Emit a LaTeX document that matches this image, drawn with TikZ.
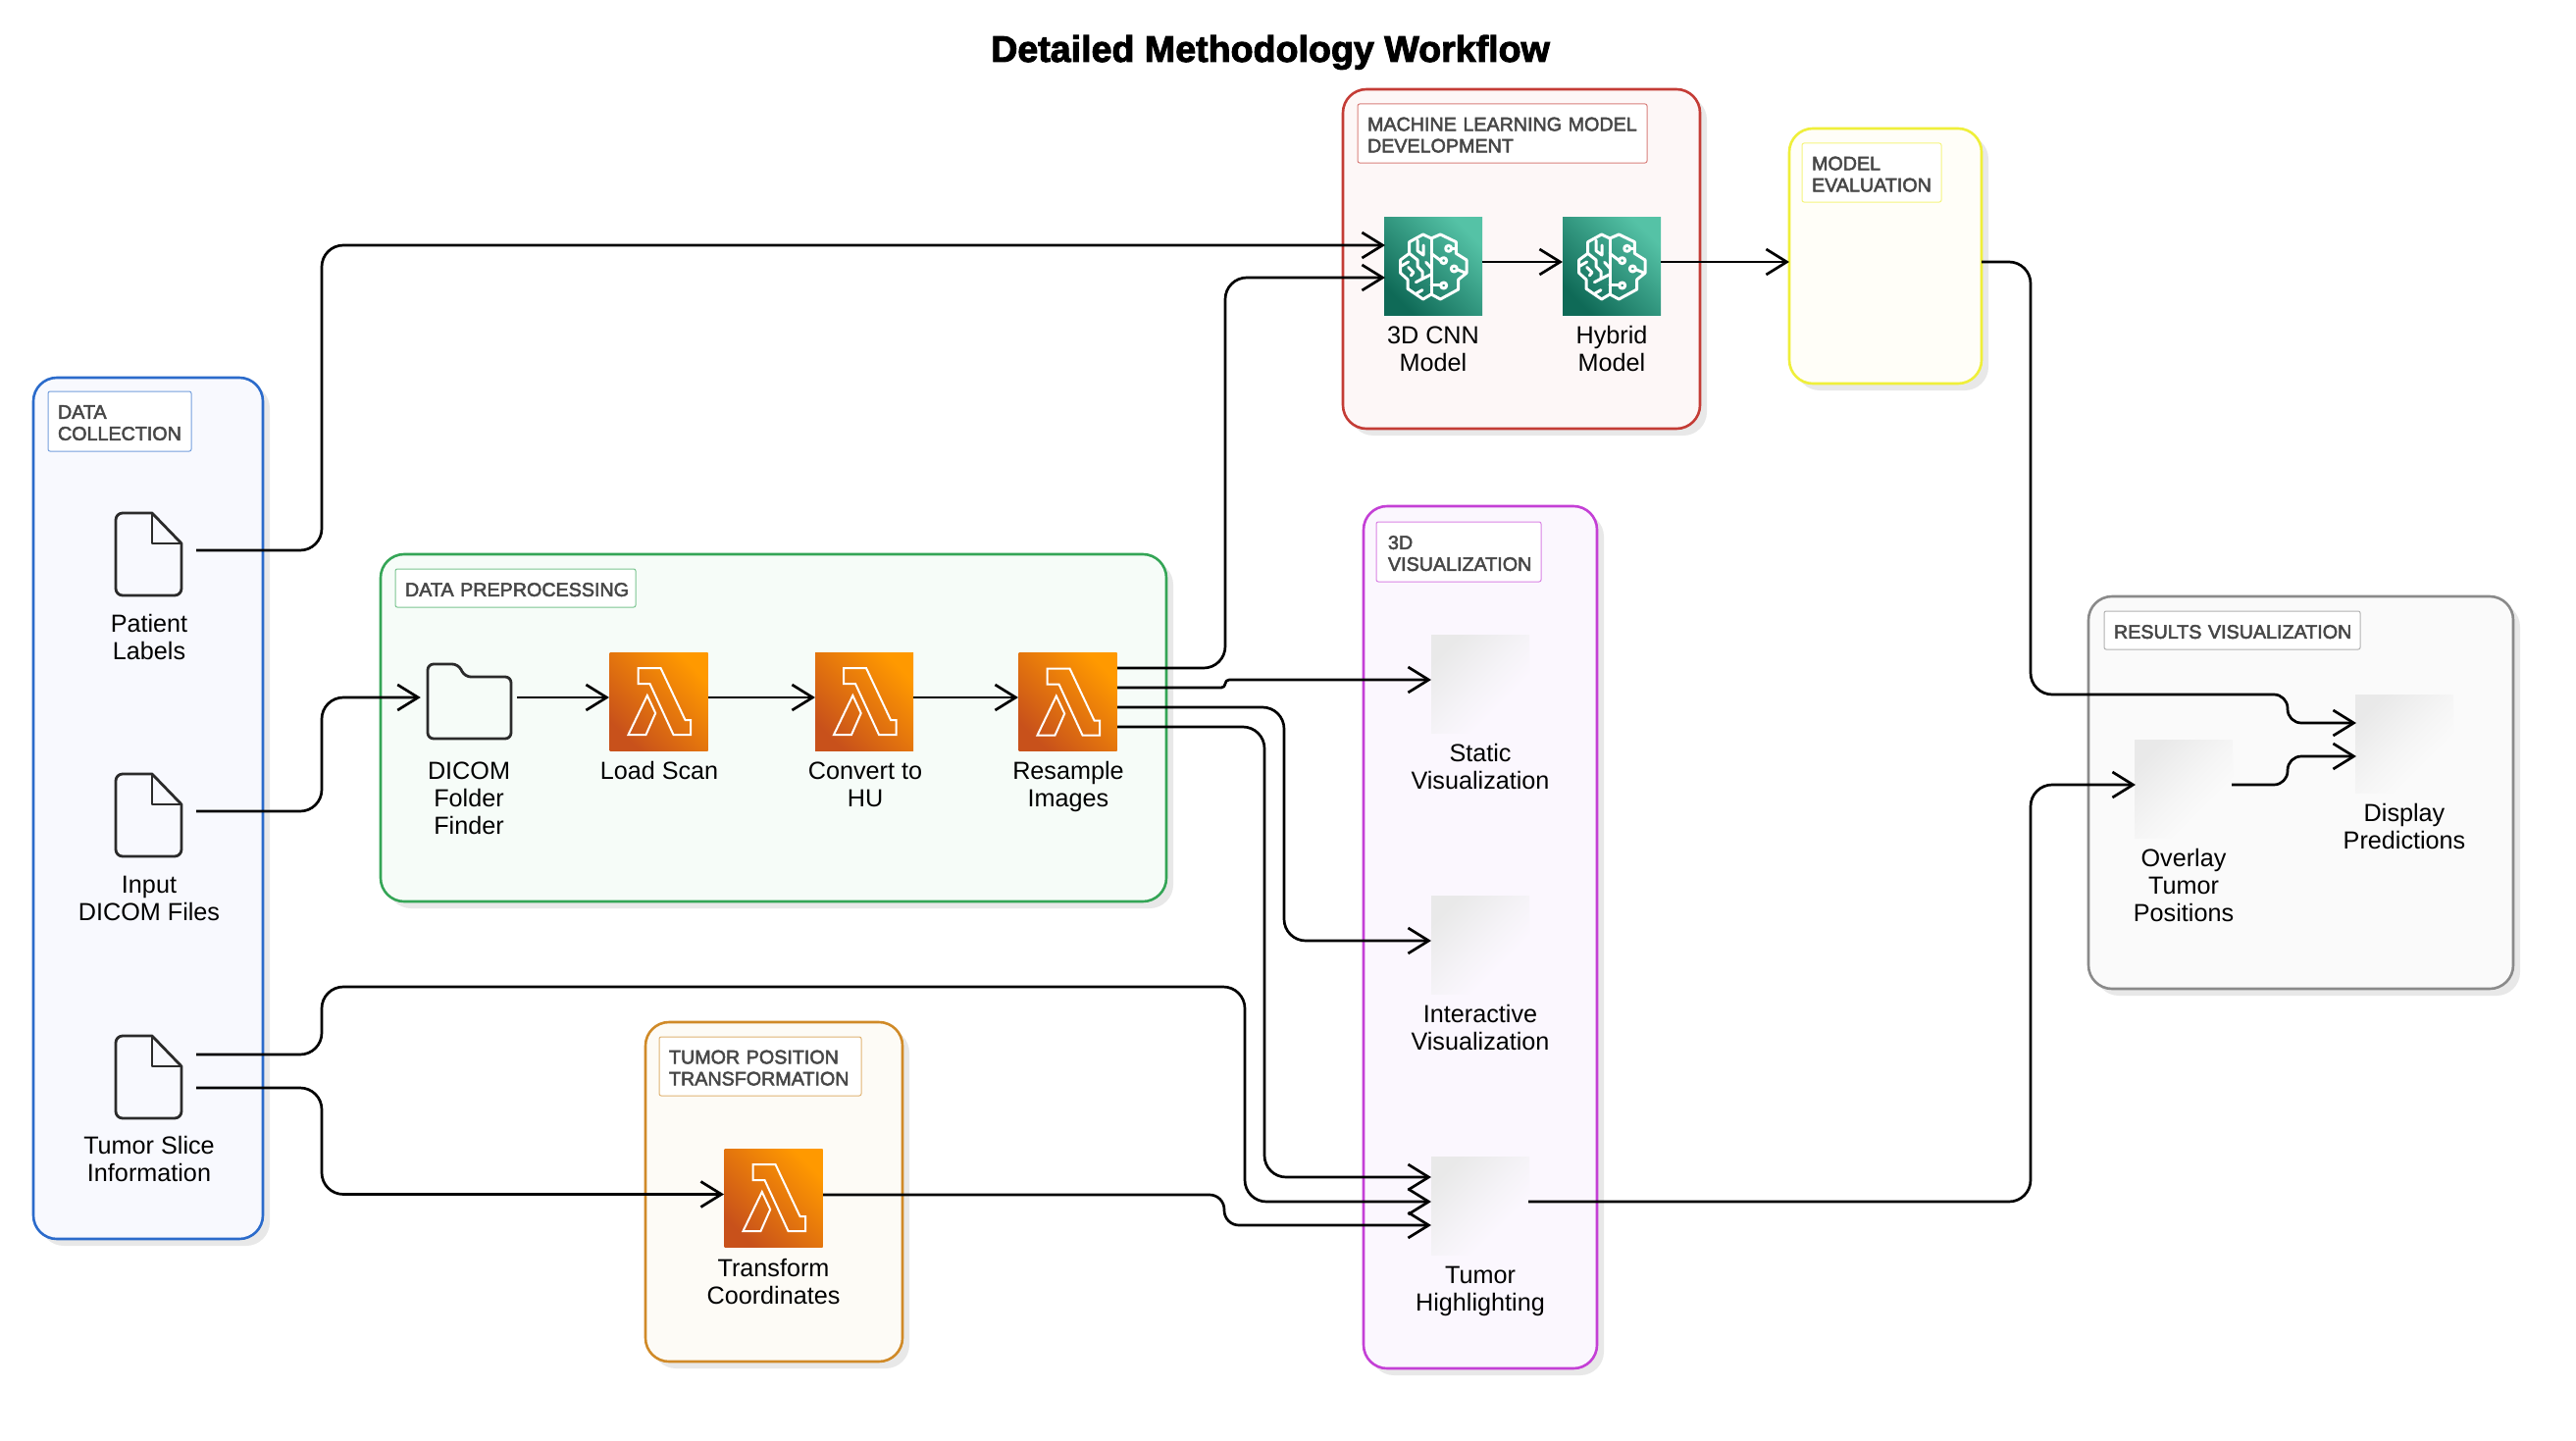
\documentclass[tikz,border=0pt]{standalone}
\usepackage{fontspec}
\setmainfont{Liberation Sans}
\newfontfamily\grpfont[FakeBold=2.6]{Liberation Sans}
\newfontfamily\ttlfont[FakeBold=2.6]{Liberation Sans Bold}
\usetikzlibrary{arrows.meta,calc}

\definecolor{cblue}{HTML}{2B6BCB}\definecolor{fblue}{HTML}{F8F9FE}
\definecolor{cgreen}{HTML}{34A556}\definecolor{fgreen}{HTML}{F6FCF8}
\definecolor{cred}{HTML}{C43C36}\definecolor{fred}{HTML}{FDF7F7}
\definecolor{cyellow}{HTML}{EFEF3A}\definecolor{fyellow}{HTML}{FFFEF8}
\definecolor{cpurple}{HTML}{C440D6}\definecolor{fpurple}{HTML}{FBF7FE}
\definecolor{corange}{HTML}{D08A28}\definecolor{forange}{HTML}{FDFBF6}
\definecolor{cgrey}{HTML}{8A8A8A}\definecolor{fgrey}{HTML}{FAFAFA}
\definecolor{shadowc}{HTML}{E8E8E8}
\definecolor{ink}{HTML}{2B2B2B}
\definecolor{lamA}{HTML}{C8511B}\definecolor{lamB}{HTML}{FF9900}
\definecolor{brA}{HTML}{0F6A57}\definecolor{brB}{HTML}{55C2A6}
\definecolor{fadetop}{HTML}{E9E9E9}
\definecolor{fademidp}{HTML}{F5F3F7}\definecolor{fademidg}{HTML}{F5F5F5}

\pgfdeclareverticalshading{fadepurple}{100bp}{color(0bp)=(fpurple); color(35bp)=(fpurple); color(50bp)=(fademidp); color(75bp)=(fadetop); color(100bp)=(fadetop)}
\pgfdeclareverticalshading{fadegrey}{100bp}{color(0bp)=(fgrey); color(35bp)=(fgrey); color(50bp)=(fademidg); color(75bp)=(fadetop); color(100bp)=(fadetop)}

\newcommand{\txtfont}{\fontsize{25.2}{28}\selectfont}
\newcommand{\grpsize}{\grpfont\fontsize{19.7}{22}\selectfont}
\newcommand{\gl}[1]{\raisebox{-1.6pt}[\height][\depth]{\mbox{#1}}}

\tikzset{
  conn/.style={draw=black,line width=2.7pt,line join=round,
    -{Straight Barb[length=21pt,width=26pt,line width=2.7pt]},rounded corners=22pt},
  groupbg/.style={rectangle,rounded corners=24pt,inner sep=0pt,line width=2.6pt},
  grouplab/.style={rectangle,rounded corners=2pt,inner ysep=0pt,inner xsep=10pt,
    fill=white,line width=1pt,align=left,text=black!72,font=\grpsize},
  caption/.style={anchor=north,inner sep=0pt,align=center,text=black,font=\txtfont},
  fileicon/.style={rectangle,inner sep=0pt,minimum width=96pt,minimum height=100pt,
    path picture={\begin{scope}[shift={(path picture bounding box.center)}]
      \draw[ink,line width=2.8pt,line join=round]
        (-22,-38) -- (3,-38) -- (33,-7) -- (33,39) arc[start angle=0,end angle=90,radius=7]
        -- (-27,46) arc[start angle=90,end angle=180,radius=7] -- (-34,-31)
        arc[start angle=180,end angle=270,radius=7] -- cycle;
      \draw[ink,line width=2.8pt,line join=round] (3,-38) -- (3,-7) -- (33,-7);
    \end{scope}}},
  foldericon/.style={rectangle,inner sep=0pt,minimum width=98pt,minimum height=100pt,
    path picture={\begin{scope}[shift={(path picture bounding box.center)}]
      \draw[ink,line width=2.8pt,line join=round,rounded corners=6pt]
        (-42,-34) -- (-11,-34) -- (-4,-21) -- (43,-21) -- (43,42) -- (-42,42) -- cycle;
    \end{scope}}},
  lambdaicon/.style={rectangle,inner sep=0pt,minimum size=100pt,
    bottom color=lamA,top color=lamB,shading angle=-45,
    path picture={\begin{scope}[shift={(path picture bounding box.center)}]
      \draw[white,line width=2pt,line join=miter]
        (-21,-34) -- (2,-34) -- (27,19) -- (32.6,19) -- (32.6,34) -- (15,34) -- (-9,-18) -- (-21,-18) -- cycle;
      \draw[white,line width=2pt,line join=miter]
        (-11.7,-6) -- (-3.3,12) -- (-13,34) -- (-31,34) -- cycle;
    \end{scope}}},
  brainicon/.style={rectangle,inner sep=0pt,minimum size=100pt,
    bottom color=brA,top color=brB,shading angle=-45,
    path picture={\begin{scope}[shift={(path picture bounding box.center)},x=.3333pt,y=-.3333pt,white,line width=3pt,line join=round,line cap=round]
      \draw (-6,-84) -- (-31,-96) -- (-73,-73) -- (-73,-38) -- (-100,-18) -- (-100,22) -- (-78,42) -- (-78,70) -- (-31,102) -- (-6,87) -- (22,102) -- (77,72) -- (77,42) -- (102,22) -- (102,-18) -- (70,-38) -- (70,-73) -- (22,-96) -- cycle;
      \draw (-6,-84) -- (-6,87);
      \draw (-48,-78) -- (-48,-46) -- (-30,-33) -- (-30,-63);
      \draw (-73,-38) -- (-48,-18) -- (-48,2) -- (-33,17) -- (-33,37);
      \draw (-100,2) -- (-76,-12);
      \draw (-22,-11) -- (-6,7);
      \draw (-53,50) -- (-6,26);
      \draw (-76,4) -- (-60,20) -- (-68,30);
      \draw (-54,86) -- (-33,74);
      \draw (-6,-38) -- (23,-16);
      \draw (32,-16) circle[radius=9];
      \draw (56,-53) -- (70,-53);
      \draw (47,-53) circle[radius=9];
      \draw (73,11) -- (100,22);
      \draw (64,9) circle[radius=9];
      \draw (-6,60) -- (22,60);
      \draw (32,60) circle[radius=9];
    \end{scope}}},
  fadebox/.style={rectangle,inner sep=0pt,minimum size=100pt,shade,shading=#1,shading angle=45},
}
% name, x1, y1, x2, y2, stroke, fill
\newcommand{\groupbox}[7]{%
  \path[fill=shadowc,rounded corners=24pt] (#2+7,#3+7) rectangle (#4+7,#5+7);
  \node[groupbg,draw=#6,fill=#7,minimum width={#4-#2},minimum height={#5-#3}] (#1)
    at ({(#2+#4)/2},{(#3+#5)/2}) {};}
% name, x1, y1, x2, y2, colour, text
\newcommand{\grouplabel}[7]{%
  \node[grouplab,draw=#6!65,text width={#4-#2-20},minimum height={#5-#3}] (#1)
    at ({(#2+#4)/2},{(#3+#5)/2}) {#7};}

\begin{document}
\begin{tikzpicture}[x=1pt,y=-1pt]
\useasboundingbox[fill=white] (0,0) rectangle (2626,1469);

\node[inner sep=0pt,anchor=base,font=\ttlfont\fontsize{37.6}{42}\selectfont] (title) at (1295,63) {Detailed Methodology Workflow};

% Groups
\groupbox{gcollect}{34}{385}{268}{1263}{cblue}{fblue}
\grouplabel{lcollect}{49}{399}{195}{460}{cblue}{\gl{DATA}\\\gl{COLLECTION}}
\groupbox{gprep}{388}{565}{1189}{919}{cgreen}{fgreen}
\grouplabel{lprep}{403}{580}{648}{619}{cgreen}{\gl{DATA PREPROCESSING}}
\groupbox{gml}{1369}{91}{1733}{437}{cred}{fred}
\grouplabel{lml}{1384}{106}{1679}{166}{cred}{\gl{MACHINE LEARNING MODEL}\\\gl{DEVELOPMENT}}
\groupbox{geval}{1824}{131}{2020}{391}{cyellow}{fyellow}
\grouplabel{leval}{1837}{146}{1979}{206}{cyellow}{\gl{MODEL}\\\gl{EVALUATION}}
\groupbox{gviz}{1390}{516}{1628}{1395}{cpurple}{fpurple}
\grouplabel{lviz}{1403}{532}{1571}{593}{cpurple}{\hspace*{2pt}\gl{3D}\\\hspace*{2pt}\gl{VISUALIZATION}}
\groupbox{gtumor}{658}{1042}{920}{1388}{corange}{forange}
\grouplabel{ltumor}{672}{1057}{878}{1117}{corange}{\gl{TUMOR POSITION}\\\gl{TRANSFORMATION}}
\groupbox{gres}{2129}{608}{2562}{1008}{cgrey}{fgrey}
\grouplabel{lres}{2145}{623}{2406}{662}{cgrey}{\gl{RESULTS VISUALIZATION}}

% Icons
\node[fileicon] (patient) at (152,561) {};
\node[fileicon] (input) at (152,827) {};
\node[fileicon] (slice) at (152,1094) {};
\node[foldericon] (folder) at (478,711) {};
\node[lambdaicon] (load) at (671.5,715) {};
\node[lambdaicon] (convert) at (881,715) {};
\node[lambdaicon] (resample) at (1088.5,715.5) {};
\node[lambdaicon] (transform) at (788.5,1221) {};
\node[brainicon] (cnn) at (1461,271) {};
\node[brainicon] (hybrid) at (1643,271) {};
\node[fadebox=fadepurple] (static) at (1509,697) {};
\node[fadebox=fadepurple] (interactive) at (1509,963) {};
\node[fadebox=fadepurple] (highlight) at (1509,1229) {};
\node[fadebox=fadegrey] (overlay) at (2226,804) {};
\node[fadebox=fadegrey] (display) at (2451,758) {};

% Captions
\node[caption] (tpatient) at (152,624.4) {\strut Patient\\Labels};
\node[caption] (tinput) at (152,890.4) {\strut Input\\DICOM Files};
\node[caption] (tslice) at (152,1156.4) {\strut Tumor Slice\\Information};
\node[caption] (tfolder) at (478,774.4) {\strut DICOM\\Folder\\Finder};
\node[caption] (tload) at (672,774.4) {\strut Load Scan};
\node[caption] (tconvert) at (882,774.4) {\strut Convert to\\HU};
\node[caption] (tresample) at (1089,774.4) {\strut Resample\\Images};
\node[caption] (ttransform) at (788.5,1281.4) {\strut Transform\\Coordinates};
\node[caption] (tcnn) at (1461,330.9) {\strut 3D CNN\\Model};
\node[caption] (thybrid) at (1643,330.9) {\strut Hybrid\\Model};
\node[caption] (tstatic) at (1509,756.4) {\strut Static\\Visualization};
\node[caption] (tinteractive) at (1509,1022.4) {\strut Interactive\\Visualization};
\node[caption] (thighlight) at (1509,1288.4) {\strut Tumor\\Highlighting};
\node[caption] (toverlay) at (2226,863.4) {\strut Overlay\\Tumor\\Positions};
\node[caption] (tdisplay) at (2451,817.4) {\strut Display\\Predictions};

% Connection points
\coordinate (loadin) at (621,711); \coordinate (loadout) at (722,711);
\coordinate (convin) at (831,711); \coordinate (convout) at (931,711);
\coordinate (resin) at (1038,711);
\coordinate (resa) at (1139,681); \coordinate (resb) at (1139,701);
\coordinate (resc) at (1139,721); \coordinate (resd) at (1139,741);
\coordinate (cnnina) at (1412,250); \coordinate (cnninb) at (1412,283);
\coordinate (cnnout) at (1511,267); \coordinate (hybin) at (1593,267);
\coordinate (hybout) at (1693,267);
\coordinate (evalin) at (1824,267); \coordinate (evalout) at (2020,267);
\coordinate (statin) at (1459,693); \coordinate (intin) at (1459,959);
\coordinate (hla) at (1459,1200); \coordinate (hlb) at (1459,1225); \coordinate (hlc) at (1459,1249);
\coordinate (hlout) at (1558,1225);
\coordinate (trin) at (738,1217.5); \coordinate (trout) at (839,1218);
\coordinate (sliceupper) at (200,1075); \coordinate (slicelower) at (200,1109);
\coordinate (ovin) at (2177,800); \coordinate (ovout) at (2275,800);
\coordinate (dispa) at (2402,737); \coordinate (dispb) at (2402,771);

% Connectors
\draw[conn] (patient.east) -- (328,561) -- (328,250) -- (cnnina);
\draw[conn] (input.east) -- (328,827) -- (328,711) -- (folder.west);
\draw[conn] (folder.east) -- (loadin);
\draw[conn] (loadout) -- (convin);
\draw[conn] (convout) -- (resin);
\draw[conn] (resa) -- (1249,681) -- (1249,283) -- (cnninb);
\draw[conn,rounded corners=4pt] (resb) -- (1249,701) -- (1249,693) -- (statin);
\draw[conn] (resc) -- (1309,721) -- (1309,959) -- (intin);
\draw[conn] (resd) -- (1289,741) -- (1289,1200) -- (hla);
\draw[conn] (sliceupper) -- (328,1075) -- (328,1006) -- (1269,1006) -- (1269,1225) -- (hlb);
\draw[conn] (slicelower) -- (328,1109) -- (328,1217.5) -- (trin);
\draw[conn,rounded corners=15pt] (trout) -- (1248,1218) -- (1248,1249) -- (hlc);
\draw[conn] (cnnout) -- (hybin);
\draw[conn] (hybout) -- (evalin);
\draw[conn] (evalout) -- (2070,267) -- (2070,708) [rounded corners=14pt] -- (2332,708) -- (2332,737) -- (dispa);
\draw[conn] (hlout) -- (2070,1225) -- (2070,800) -- (ovin);
\draw[conn,rounded corners=14pt] (ovout) -- (2332,800) -- (2332,771) -- (dispb);
\end{tikzpicture}
\end{document}
